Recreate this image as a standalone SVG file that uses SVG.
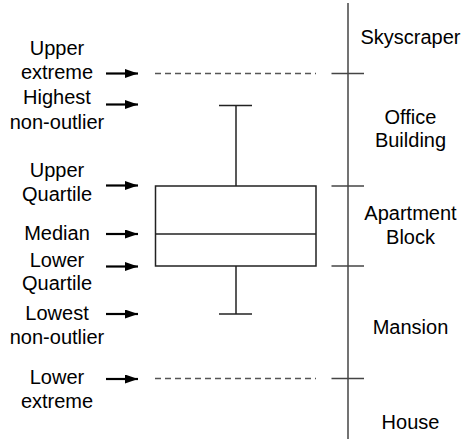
<svg xmlns="http://www.w3.org/2000/svg" width="463" height="441" viewBox="0 0 463 441">
<defs>
<marker id="ah" markerWidth="13" markerHeight="9" refX="13" refY="4.5" orient="auto" markerUnits="userSpaceOnUse">
<path d="M0,0 L13,4.5 L0,9 Z" fill="#000"/>
</marker>
<style>
text{font-family:"Liberation Sans",Arial,Helvetica,sans-serif;font-size:20px;fill:#000;text-anchor:middle}
.arr{stroke:#000;stroke-width:2.2;fill:none;marker-end:url(#ah)}
.box{stroke:#222;stroke-width:1.5;fill:none}
.axis{stroke:#444;stroke-width:1.5;fill:none}
.dash{stroke:#555;stroke-width:1.3;stroke-dasharray:6 4;fill:none}
</style>
</defs>
<rect width="463" height="441" fill="#fff"/>
<g id="boxplot">
<rect class="box" x="155.5" y="186" width="160.5" height="80"/>
<line class="box" x1="155.5" y1="234" x2="316" y2="234"/>
<line class="box" x1="236" y1="105.5" x2="236" y2="186"/>
<line class="box" x1="219" y1="105.5" x2="252" y2="105.5"/>
<line class="box" x1="236" y1="266" x2="236" y2="314"/>
<line class="box" x1="219" y1="314" x2="252" y2="314"/>
<line class="dash" x1="155" y1="73.5" x2="316" y2="73.5"/>
<line class="dash" x1="155" y1="378.5" x2="316" y2="378.5"/>
</g>
<g id="axis">
<line class="axis" x1="348" y1="3" x2="348" y2="439"/>
<line class="axis" x1="331.5" y1="73.5" x2="364" y2="73.5"/>
<line class="axis" x1="331.5" y1="186" x2="364" y2="186"/>
<line class="axis" x1="331.5" y1="266" x2="364" y2="266"/>
<line class="axis" x1="331.5" y1="378.5" x2="364" y2="378.5"/>
</g>
<g id="connectors">
<line class="arr" x1="106" y1="73.5" x2="138" y2="73.5"/>
<line class="arr" x1="106" y1="104.5" x2="138" y2="104.5"/>
<line class="arr" x1="106" y1="185.5" x2="138" y2="185.5"/>
<line class="arr" x1="106" y1="234" x2="138" y2="234"/>
<line class="arr" x1="106" y1="266.5" x2="138" y2="266.5"/>
<line class="arr" x1="106" y1="314" x2="138" y2="314"/>
<line class="arr" x1="106" y1="379" x2="138" y2="379"/>
</g>
<g id="label-upper-extreme"><text x="57" y="54.5">Upper</text><text x="57" y="78.5">extreme</text></g>
<g id="label-highest"><text x="57" y="104">Highest</text><text x="57" y="129">non-outlier</text></g>
<g id="label-upper-quartile"><text x="57" y="177">Upper</text><text x="57" y="200.5">Quartile</text></g>
<g id="label-median"><text x="57" y="240">Median</text></g>
<g id="label-lower-quartile"><text x="57" y="266.5">Lower</text><text x="57" y="289.5">Quartile</text></g>
<g id="label-lowest"><text x="57" y="320">Lowest</text><text x="57" y="343.5">non-outlier</text></g>
<g id="label-lower-extreme"><text x="57" y="384">Lower</text><text x="57" y="408">extreme</text></g>
<g id="label-skyscraper"><text x="410.5" y="43.5">Skyscraper</text></g>
<g id="label-office"><text x="410.5" y="123.5">Office</text><text x="410.5" y="147">Building</text></g>
<g id="label-apartment"><text x="410.5" y="220">Apartment</text><text x="410.5" y="243.5">Block</text></g>
<g id="label-mansion"><text x="410.5" y="333.5">Mansion</text></g>
<g id="label-house"><text x="410.5" y="428.5">House</text></g>
</svg>
